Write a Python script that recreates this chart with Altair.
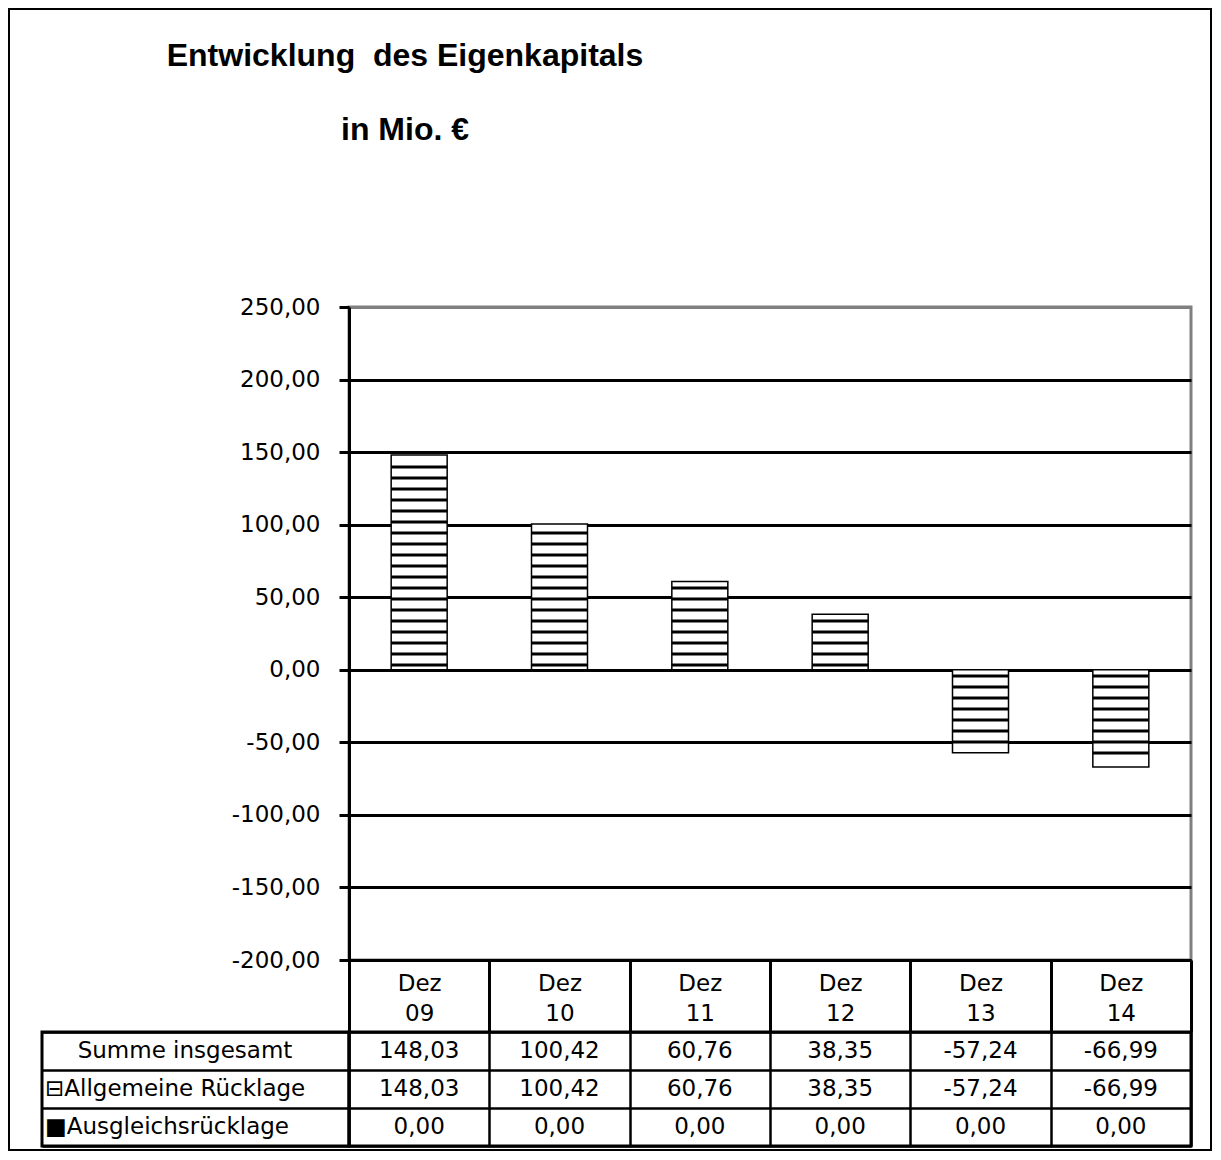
import altair as alt
import pandas as pd

# ---------------- data ----------------
CATEGORIES = ["Dez 09", "Dez 10", "Dez 11", "Dez 12", "Dez 13", "Dez 14"]
SUMME = [148.03, 100.42, 60.76, 38.35, -57.24, -66.99]
ALLGEMEINE = [148.03, 100.42, 60.76, 38.35, -57.24, -66.99]
AUSGLEICH = [0.00, 0.00, 0.00, 0.00, 0.00, 0.00]
ROW_LABELS = ["Summe insgesamt", "Allgemeine Rücklage", "Ausgleichsrücklage"]
ROW_ICONS = ["", "⊟", "■"]
Y_TICKS = [-200, -150, -100, -50, 0, 50, 100, 150, 200, 250]
TITLE_1 = "Entwicklung \u00a0des Eigenkapitals"
TITLE_2 = "in Mio. €"

FONT = "DejaVu Sans"
FS = 23
DE = "(datum.{f} < 0 ? '-' : '') + replace(format(abs(datum.{f}), '.2f'), '.', ',')"

bars_df = pd.DataFrame({"cat": CATEGORIES, "v": ALLGEMEINE})

x_scale = alt.Scale(domain=CATEGORIES, paddingInner=0, paddingOuter=0)
y_scale = alt.Scale(domain=[-200, 250], nice=False, zero=False)

x_axis = alt.Axis(
    title=None, labelExpr="split(datum.label, ' ')", labelAngle=0,
    labelFont=FONT, labelFontSize=FS, labelColor="black", labelLineHeight=30,
    labelPadding=-60, labelBaseline="top", tickBand="extent", tickSize=72,
    tickWidth=3, tickColor="black", domainColor="black", domainWidth=3,
    grid=False,
)
y_axis = alt.Axis(
    title=None, values=Y_TICKS, labelExpr=DE.format(f="value"),
    labelFont=FONT, labelFontSize=FS, labelColor="black", labelPadding=19,
    labelFlush=False, tickSize=10, tickWidth=3, tickColor="black",
    domainColor="black", domainWidth=3, grid=True, gridWidth=3,
    gridColor={"condition": {"test": "datum.value == 250", "value": "#808080"}, "value": "black"},
)

bars = alt.Chart(bars_df).mark_bar(
    size=56, fill="white", stroke="black", strokeWidth=1.5
).encode(
    x=alt.X("cat:N", scale=x_scale, sort=CATEGORIES, axis=x_axis),
    y=alt.Y("v:Q", scale=y_scale, axis=y_axis),
)

# horizontal hatch pattern inside each bar
stripes = alt.Chart(bars_df).transform_calculate(
    s="sequence(datum.v > 0 ? 3.3 : -4.3, datum.v > 0 ? datum.v - 2.5 : datum.v + 2.5, datum.v > 0 ? 7.58 : -7.58)"
).transform_flatten(["s"]).mark_tick(
    size=56, thickness=2.8, color="black", opacity=1
).encode(
    x=alt.X("cat:N", scale=x_scale, sort=CATEGORIES, axis=x_axis),
    y=alt.Y("s:Q", scale=y_scale, axis=y_axis),
)

main = alt.layer(bars, stripes).properties(
    width=842, height=653,
    view=alt.ViewBackground(stroke="#808080", strokeWidth=3),
)

# ---------------- spacer with frame and title ----------------
one = pd.DataFrame({"k": [0]})
frame = alt.Chart(one).mark_rect(
    fillOpacity=0, stroke="black", strokeWidth=2
).encode(
    x=alt.value(-33), x2=alt.value(1169), y=alt.value(-298), y2=alt.value(843)
)
t1 = alt.Chart(pd.DataFrame({"t": [TITLE_1]})).mark_text(
    font="Liberation Sans", fontSize=32, fontWeight="bold", align="center",
    baseline="alphabetic", color="black"
).encode(text="t:N", x=alt.value(363), y=alt.value(-241))
t2 = alt.Chart(pd.DataFrame({"t": [TITLE_2]})).mark_text(
    font="Liberation Sans", fontSize=32, fontWeight="bold", align="center",
    baseline="alphabetic", color="black"
).encode(text="t:N", x=alt.value(363), y=alt.value(-167))
spacer = alt.layer(frame, t1, t2).properties(width=307, height=653)

# ---------------- data table ----------------
row_axis = alt.Axis(
    title=None, labels=False, ticks=False, domain=False, grid=True,
    tickBand="extent", gridColor="black", gridWidth=2.5,
)
y_row = alt.Y("row:N", scale=alt.Scale(domain=ROW_LABELS, paddingInner=0, paddingOuter=0),
              sort=ROW_LABELS, axis=row_axis)

rows_df = pd.DataFrame({
    "row": ROW_LABELS,
    "label": [i + l for i, l in zip(ROW_ICONS, ROW_LABELS)],
})
lab_center = alt.Chart(rows_df).transform_filter(
    alt.datum.row == ROW_LABELS[0]
).mark_text(font=FONT, fontSize=FS, align="center", baseline="middle", color="black").encode(
    y=y_row, x=alt.value(143), text="label:N"
)
lab_left = alt.Chart(rows_df).transform_filter(
    alt.datum.row != ROW_LABELS[0]
).mark_text(font=FONT, fontSize=FS, align="left", baseline="middle", color="black").encode(
    y=y_row, x=alt.value(3), text="label:N"
)
labcol = alt.layer(lab_center, lab_left).properties(
    width=307, height=114,
    view=alt.ViewBackground(stroke="black", strokeWidth=3),
)

tbl = []
for r, series in zip(ROW_LABELS, [SUMME, ALLGEMEINE, AUSGLEICH]):
    for c, v in zip(CATEGORIES, series):
        tbl.append({"row": r, "cat": c, "v": v})
table = alt.Chart(pd.DataFrame(tbl)).transform_calculate(
    txt=DE.format(f="v")
).mark_text(font=FONT, fontSize=FS, align="center", baseline="middle", color="black").encode(
    x=alt.X("cat:N", scale=x_scale, sort=CATEGORIES, axis=alt.Axis(
        title=None, labels=False, ticks=False, domain=False, grid=True,
        tickBand="extent", gridColor="black", gridWidth=2.5)),
    y=y_row,
    text="txt:N",
).properties(
    width=842, height=114,
    view=alt.ViewBackground(stroke="black", strokeWidth=3),
)

chart = alt.concat(
    spacer, main, labcol, table, columns=2, bounds="flush",
    spacing=alt.RowColnumber(row=72, column=0),
).properties(
    padding=0, background="white"
).configure_view(stroke=None)

chart.save("out.html", embed_options={"renderer": "svg", "actions": False})
